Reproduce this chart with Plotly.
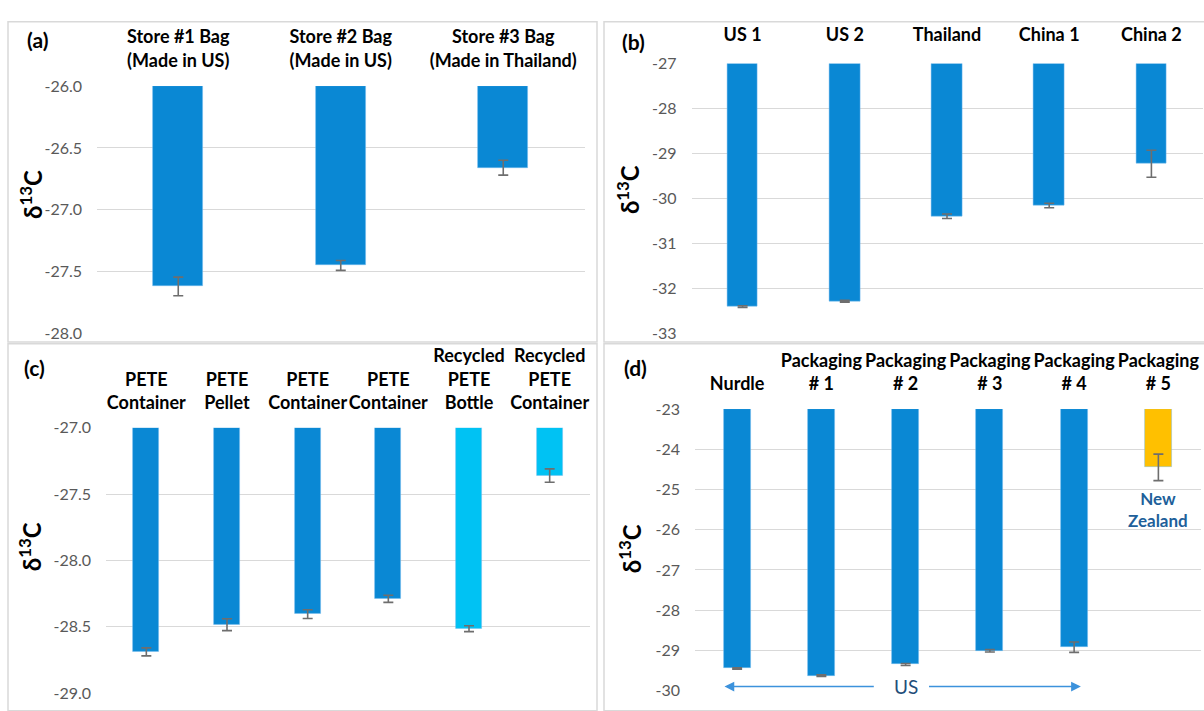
import plotly.graph_objects as go

W, H = 1204, 711

# ---------------- data ----------------
a_labels = ["Store #1 Bag<br>(Made in US)", "Store #2 Bag<br>(Made in US)", "Store #3 Bag<br>(Made in Thailand)"]
a_values = [-27.62, -27.45, -26.66]
a_errors = [0.075, 0.04, 0.06]
a_yticks = [-28.0, -27.5, -27.0, -26.5, -26.0]

b_labels = ["US 1", "US 2", "Thailand", "China 1", "China 2"]
b_values = [-32.41, -32.29, -30.40, -30.16, -29.23]
b_errors = [0.02, 0.02, 0.05, 0.05, 0.30]
b_yticks = [-33, -32, -31, -30, -29, -28, -27]

c_labels = ["PETE<br>Container", "PETE<br>Pellet", "PETE<br>Container", "PETE<br>Container",
            "Recycled<br>PETE<br>Bottle", "Recycled<br>PETE<br>Container"]
c_values = [-28.69, -28.485, -28.405, -28.29, -28.515, -27.36]
c_errors = [0.03, 0.045, 0.033, 0.027, 0.022, 0.05]
c_type = ["virgin", "virgin", "virgin", "virgin", "recycled", "recycled"]
c_yticks = [-29.0, -28.5, -28.0, -27.5, -27.0]

d_labels = ["Nurdle", "Packaging<br># 1", "Packaging<br># 2", "Packaging<br># 3", "Packaging<br># 4", "Packaging<br># 5"]
d_values = [-29.45, -29.63, -29.35, -29.01, -28.92, -24.45]
d_errors = [0.02, 0.02, 0.025, 0.03, 0.13, 0.33]
d_origin = ["US", "US", "US", "US", "US", "New Zealand"]
d_yticks = [-30, -29, -28, -27, -26, -25, -24, -23]

# ---------------- styles ----------------
BLUE = "#0a88d4"
LIGHT = "#00c2f3"
YELLOW = "#ffc000"
type_color = {"virgin": BLUE, "recycled": LIGHT}
origin_color = {"US": BLUE, "New Zealand": YELLOW}
FONT = "Lato"

panels = [
    dict(labels=a_labels, values=a_values, errors=a_errors, colors=[BLUE] * len(a_values),
         ticks=a_yticks, fmt="{:.1f}", px=(97, 584.5), py=(78.2, 332.3), bw=0.31, xstand=15,
         letter="(a)", lpos=(37, 30), tpos=(31, 190)),
    dict(labels=b_labels, values=b_values, errors=b_errors, colors=[BLUE] * len(b_values),
         ticks=b_yticks, fmt="{:d}", px=(691.5, 1202.5), py=(55, 332), bw=0.30, xstand=18,
         letter="(b)", lpos=(634, 32), tpos=(628, 185)),
    dict(labels=c_labels, values=c_values, errors=c_errors, colors=[type_color[t] for t in c_type],
         ticks=c_yticks, fmt="{:.1f}", px=(106, 590), py=(429.3, 701.7), bw=0.32, xstand=14,
         letter="(c)", lpos=(34, 367), tpos=(30, 552)),
    dict(labels=d_labels, values=d_values, errors=d_errors, colors=[origin_color[o] for o in d_origin],
         ticks=d_yticks, fmt="{:d}", px=(695, 1200.5), py=(410, 699.3), bw=0.32, xstand=14,
         letter="(d)", lpos=(635, 367), tpos=(630, 554)),
]

fig = go.Figure()
annotations = []
layout = {}
for i, p in enumerate(panels, start=1):
    sfx = "" if i == 1 else str(i)
    xa, ya = "x" + sfx, "y" + sfx
    n = len(p["values"])
    lo, top = min(p["ticks"]), max(p["ticks"])
    xs = list(range(n))
    fig.add_trace(go.Bar(
        x=xs, y=[v - top for v in p["values"]], base=top, width=p["bw"],
        marker=dict(color=p["colors"], line=dict(color="rgba(120,190,240,0.6)", width=0.8)),
        error_y=dict(type="data", array=p["errors"], color="#6e6e6e", thickness=1.6, width=5),
        xaxis=xa, yaxis=ya, showlegend=False, hoverinfo="skip"))
    layout["xaxis" + sfx] = dict(
        domain=[p["px"][0] / W, p["px"][1] / W], range=[-0.5, n - 0.5], side="top",
        tickvals=xs, ticktext=p["labels"], ticks="", showgrid=False, zeroline=False,
        showline=False, anchor=ya, ticklabelstandoff=p["xstand"], tickangle=0,
        tickfont=dict(family=FONT, size=18, color="black", weight="bold"))
    layout["yaxis" + sfx] = dict(
        domain=[1 - p["py"][1] / H, 1 - p["py"][0] / H], range=[lo, top],
        tickvals=p["ticks"], ticktext=[p["fmt"].format(t) for t in p["ticks"]],
        showgrid=True, gridcolor="#d9d9d9", gridwidth=1,
        zeroline=False, showline=False, ticks="", anchor=xa, ticklabelstandoff=14,
        tickfont=dict(family=FONT, size=16, color="#595959"))
    annotations.append(dict(text=p["letter"], x=p["lpos"][0] / W, y=1 - p["lpos"][1] / H,
                            xref="paper", yref="paper", showarrow=False,
                            xanchor="center", yanchor="middle",
                            font=dict(family=FONT, size=21, color="black", weight="bold")))
    annotations.append(dict(text="δ<sup>13</sup>C", x=p["tpos"][0] / W, y=1 - p["tpos"][1] / H,
                            xref="paper", yref="paper", showarrow=False, textangle=-90,
                            xanchor="center", yanchor="middle",
                            font=dict(family=FONT, size=24, color="black", weight="bold")))

# US arrow and labels in panel (d)
us_idx = [i for i, o in enumerate(d_origin) if o == "US"]
nz_idx = [i for i, o in enumerate(d_origin) if o == "New Zealand"]
mid = sum(us_idx) / len(us_idx)
arrow_y = min(d_yticks) + 0.1
for head, tail in [(us_idx[0] - 0.15, mid - 0.36), (us_idx[-1] + 0.08, mid + 0.26)]:
    annotations.append(dict(text="", x=head, y=arrow_y, ax=tail, ay=arrow_y,
                            xref="x4", yref="y4", axref="x4", ayref="y4",
                            showarrow=True, arrowhead=2, arrowsize=1.3, arrowwidth=1.5,
                            arrowcolor="#3c92dc", standoff=0, startstandoff=0))
annotations.append(dict(text="US", x=mid, y=arrow_y, xref="x4", yref="y4", showarrow=False,
                        xanchor="center", yanchor="middle",
                        font=dict(family=FONT, size=19, color="#1f4e79")))
for j in nz_idx:
    annotations.append(dict(text="New<br>Zealand", x=j, y=d_values[j] - 1.05, xref="x4", yref="y4",
                            showarrow=False, xanchor="center", yanchor="middle",
                            font=dict(family=FONT, size=17, color="#215f9a", weight="bold")))

# panel borders
shapes = []
for x0, y0, x1, y1 in [(8, 12, 597, 341), (604, 12, 1212, 341), (8, 343, 597, 720), (604, 343, 1212, 720)]:
    shapes.append(dict(type="rect", xref="paper", yref="paper", x0=x0 / W, x1=x1 / W,
                       y0=1 - y1 / H, y1=1 - y0 / H, line=dict(color="#d9d9d9", width=1.5),
                       layer="below"))

fig.update_layout(width=W, height=H, margin=dict(l=0, r=0, t=0, b=0),
                  paper_bgcolor="white", plot_bgcolor="white",
                  annotations=annotations, shapes=shapes, bargap=0, **layout)

fig.write_html("out.html", config={"displayModeBar": False},
               post_script="document.body.style.margin='0';document.body.style.overflow='hidden';")
